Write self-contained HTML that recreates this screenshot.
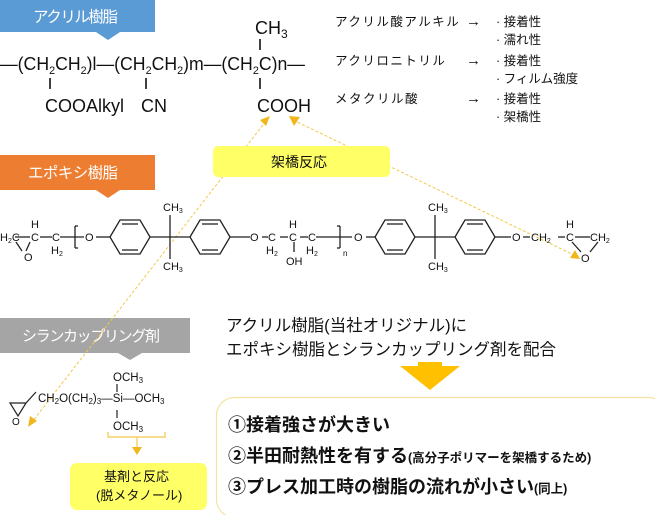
<!DOCTYPE html>
<html><head><meta charset="utf-8"><style>
body{margin:0;background:#fff;width:655px;height:515px;overflow:hidden}
svg{display:block}
text{font-family:"Liberation Sans","Noto Sans CJK JP",sans-serif;fill:#111}
</style></head><body>
<svg width="655" height="515" viewBox="0 0 655 515" xmlns="http://www.w3.org/2000/svg">
<!-- banners -->
<rect x="0" y="0" width="155" height="32" fill="#5b9bd5"/>
<polygon points="96,32 120,32 108,40" fill="#5b9bd5"/>
<text x="33" y="22" font-size="15.5" textLength="85" style="fill:#fff">アクリル樹脂</text>
<rect x="0" y="155" width="155" height="35" fill="#ed7d31"/>
<polygon points="96,190 120,190 108,198" fill="#ed7d31"/>
<text x="28" y="178" font-size="15.5" textLength="90" style="fill:#fff">エポキシ樹脂</text>
<rect x="0" y="318" width="190" height="35" fill="#a5a5a5"/>
<polygon points="118,353 142,353 130,360" fill="#a5a5a5"/>
<text x="22" y="341" font-size="15" textLength="138" style="fill:#fff">シランカップリング剤</text>

<!-- dashed connectors -->
<g stroke="#f2c84b" stroke-width="1" stroke-dasharray="3,2" fill="none">
<line x1="266" y1="121" x2="32" y2="422"/>
<line x1="293" y1="120" x2="576" y2="256"/>
</g>
<g fill="#f0b71c">
<polygon points="270,116 260,120 266,126"/>
<polygon points="289,116 300,117 294,126"/>
<polygon points="580,259 570,258 575,250"/>
<polygon points="28,427 30,416 37,421"/>
</g>

<!-- yellow boxes -->
<rect x="213" y="146" width="177" height="31" rx="5" fill="#ffff66"/>
<text x="271" y="167" font-size="14">架橋反応</text>
<rect x="70" y="463" width="137" height="47" rx="7" fill="#ffff66"/>
<text x="104" y="481" font-size="13">基剤と反応</text>
<text x="96" y="500" font-size="13">(脱メタノール)</text>

<!-- acrylic formula -->
<g font-size="18">
<text x="0" y="70" textLength="305" lengthAdjust="spacingAndGlyphs">—(CH<tspan font-size="11" dy="4">2</tspan><tspan dy="-4">CH</tspan><tspan font-size="11" dy="4">2</tspan><tspan dy="-4">)l—(CH</tspan><tspan font-size="11" dy="4">2</tspan><tspan dy="-4">CH</tspan><tspan font-size="11" dy="4">2</tspan><tspan dy="-4">)m—(CH</tspan><tspan font-size="11" dy="4">2</tspan><tspan dy="-4">C)n—</tspan></text>
<text x="255" y="34">CH<tspan font-size="12" dy="4">3</tspan></text>
<text x="45" y="112">COOAlkyl</text>
<text x="141" y="112">CN</text>
<text x="257" y="112">COOH</text>
</g>
<g stroke="#111" stroke-width="1.6">
<line x1="260" y1="39" x2="260" y2="50"/>
<line x1="50" y1="78" x2="50" y2="89"/>
<line x1="146" y1="78" x2="146" y2="89"/>
<line x1="260" y1="78" x2="260" y2="89"/>
</g>

<!-- right list -->
<g font-size="12.5">
<text x="335" y="26" letter-spacing="1.5">アクリル酸アルキル</text>
<text x="335" y="65" letter-spacing="1.5">アクリロニトリル</text>
<text x="335" y="103" letter-spacing="1.5">メタクリル酸</text>
<text x="466" y="26" font-size="15">→</text><text x="466" y="65" font-size="15">→</text><text x="466" y="103" font-size="15">→</text>
<text x="496" y="26">· 接着性</text>
<text x="496" y="44">· 濡れ性</text>
<text x="496" y="65">· 接着性</text>
<text x="496" y="83">· フィルム強度</text>
<text x="496" y="103">· 接着性</text>
<text x="496" y="121">· 架橋性</text>
</g>

<!-- epoxy structure -->
<g stroke="#222" stroke-width="1.3" fill="none">
<line x1="15" y1="237" x2="30" y2="237"/><line x1="40" y1="237" x2="52" y2="237"/><line x1="60" y1="237" x2="84" y2="237"/>
<line x1="30" y1="242" x2="26" y2="251"/><line x1="16" y1="242" x2="22" y2="251"/>
<line x1="75" y1="226" x2="75" y2="248"/><line x1="75" y1="226" x2="78" y2="226"/><line x1="75" y1="248" x2="78" y2="248"/>
<line x1="96" y1="237" x2="110" y2="237"/>
<polygon points="110,237 120,220 140,220 150,237 140,254 120,254"/>
<line x1="122" y1="224" x2="138" y2="224"/><line x1="122" y1="250" x2="138" y2="250"/>
<line x1="150" y1="237" x2="190" y2="237"/><line x1="170" y1="215" x2="170" y2="259"/>
<polygon points="190,237 200,220 220,220 230,237 220,254 200,254"/>
<line x1="202" y1="224" x2="218" y2="224"/><line x1="202" y1="250" x2="218" y2="250"/>
<line x1="230" y1="237" x2="250" y2="237"/>
<line x1="262" y1="237" x2="268" y2="237"/><line x1="280" y1="237" x2="288" y2="237"/><line x1="300" y1="237" x2="308" y2="237"/><line x1="316" y1="237" x2="352" y2="237"/>
<line x1="294" y1="242" x2="294" y2="252"/>
<line x1="340" y1="226" x2="340" y2="248"/><line x1="340" y1="226" x2="337" y2="226"/><line x1="340" y1="248" x2="337" y2="248"/>
<line x1="366" y1="237" x2="375" y2="237"/>
<polygon points="375,237 385,220 405,220 415,237 405,254 385,254"/>
<line x1="387" y1="224" x2="403" y2="224"/><line x1="387" y1="250" x2="403" y2="250"/>
<line x1="415" y1="237" x2="455" y2="237"/><line x1="435" y1="215" x2="435" y2="259"/>
<polygon points="455,237 465,220 485,220 495,237 485,254 465,254"/>
<line x1="467" y1="224" x2="483" y2="224"/><line x1="467" y1="250" x2="483" y2="250"/>
<line x1="495" y1="237" x2="511" y2="237"/><line x1="523" y1="237" x2="530" y2="237"/><line x1="558" y1="237" x2="565" y2="237"/><line x1="575" y1="237" x2="590" y2="237"/>
<line x1="572" y1="242" x2="581" y2="252"/><line x1="598" y1="242" x2="590" y2="252"/>
</g>
<g font-size="11">
<text x="0" y="241">H<tspan font-size="7" dy="2">2</tspan><tspan dy="-2">C</tspan></text>
<text x="31" y="241">C</text><text x="31" y="228">H</text><text x="24" y="261">O</text>
<text x="52" y="241">C</text><text x="51" y="254">H<tspan font-size="7" dy="2">2</tspan></text>
<text x="85" y="241">O</text>
<text x="163" y="211">CH<tspan font-size="7" dy="2">3</tspan></text><text x="163" y="270">CH<tspan font-size="7" dy="2">3</tspan></text>
<text x="250" y="241">O</text><text x="268" y="241">C</text><text x="266" y="254">H<tspan font-size="7" dy="2">2</tspan></text>
<text x="289" y="241">C</text><text x="289" y="228">H</text><text x="286" y="265">OH</text>
<text x="308" y="241">C</text><text x="306" y="254">H<tspan font-size="7" dy="2">2</tspan></text>
<text x="343" y="256" font-size="8">n</text>
<text x="354" y="241">O</text>
<text x="428" y="211">CH<tspan font-size="7" dy="2">3</tspan></text><text x="428" y="270">CH<tspan font-size="7" dy="2">3</tspan></text>
<text x="512" y="241">O</text>
<text x="531" y="241">CH<tspan font-size="7" dy="2">2</tspan></text>
<text x="566" y="241">C</text><text x="566" y="228">H</text>
<text x="590" y="241">CH<tspan font-size="7" dy="2">2</tspan></text>
<text x="581" y="262">O</text>
</g>

<!-- silane structure -->
<g stroke="#222" stroke-width="1.2" fill="none">
<polyline points="36,392 26,403 10,403 18,416 26,403"/>
<line x1="117" y1="384" x2="117" y2="392"/><line x1="117" y1="410" x2="117" y2="418"/>
</g>
<g font-size="11.5">
<text x="38" y="402">CH<tspan font-size="8" dy="2">2</tspan><tspan dy="-2">O(CH</tspan><tspan font-size="8" dy="2">2</tspan><tspan dy="-2">)</tspan><tspan font-size="8" dy="2">3</tspan><tspan dy="-2">—Si—OCH</tspan><tspan font-size="8" dy="2">3</tspan></text>
<text x="113" y="381">OCH<tspan font-size="8" dy="2">3</tspan></text>
<text x="113" y="430">OCH<tspan font-size="8" dy="2">3</tspan></text>
<text x="12" y="425" font-size="10">O</text>
</g>
<g stroke="#f2c84b" stroke-width="1.2" fill="none">
<polyline points="108,432 108,437 165,437 165,432"/>
<line x1="137" y1="437" x2="137" y2="448"/>
</g>
<polygon points="132,447 142,447 137,455" fill="#f0b71c"/>

<!-- description -->
<g font-size="16.5">
<text x="226" y="331">アクリル樹脂(当社オリジナル)に</text>
<text x="226" y="355">エポキシ樹脂とシランカップリング剤を配合</text>
</g>
<polygon points="400,366 460,366 430,390" fill="#ffc000"/>
<rect x="418" y="362" width="24" height="12" fill="#ffc000"/>
<rect x="216.5" y="397.5" width="450" height="120" rx="18" fill="#fff" stroke="#f5e2a0" stroke-width="1.2"/>
<g font-size="18" font-weight="bold">
<text x="228" y="431">①接着強さが大きい</text>
<text x="228" y="462">②半田耐熱性を有する<tspan font-size="12.5">(高分子ポリマーを架橋するため)</tspan></text>
<text x="228" y="493">③プレス加工時の樹脂の流れが小さい<tspan font-size="12.5">(同上)</tspan></text>
</g>
</svg>
</body></html>
